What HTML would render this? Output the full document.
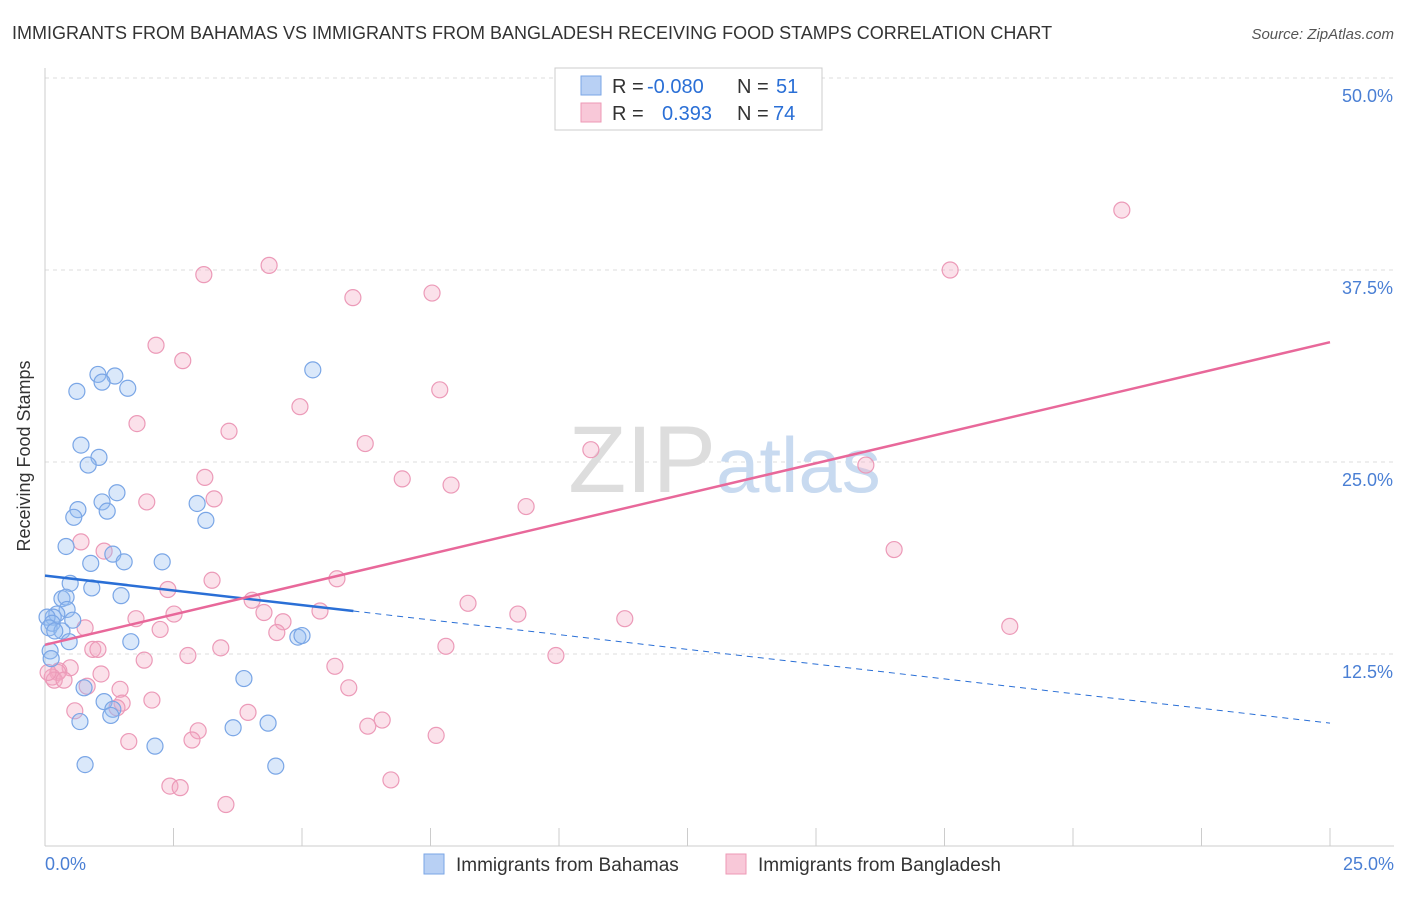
<!DOCTYPE html>
<html><head><meta charset="utf-8"><style>
body{margin:0;background:#fff;font-family:"Liberation Sans",sans-serif;}
svg text{font-family:"Liberation Sans",sans-serif;}
</style></head><body>
<svg width="1406" height="892">
<text x="12" y="39" font-size="18" fill="#333">IMMIGRANTS FROM BAHAMAS VS IMMIGRANTS FROM BANGLADESH RECEIVING FOOD STAMPS CORRELATION CHART</text>
<text x="1394" y="39" font-size="15" fill="#555" font-style="italic" text-anchor="end">Source: ZipAtlas.com</text>
<text x="30" y="456" font-size="18" fill="#333" transform="rotate(-90 30 456)" text-anchor="middle">Receiving Food Stamps</text>
<g id="grid"></g>
<line x1="45" y1="68" x2="45" y2="846" stroke="#ccc"/>
<line x1="45" y1="846" x2="1394" y2="846" stroke="#ccc"/>
<g id="xticks"></g>
<text x="716" y="492" font-size="95" fill="#ddd" text-anchor="end" font-family="Liberation Serif">ZIP</text>
<text x="716" y="492" font-size="78" fill="#c8daf0">atlas</text>
<g id="points"></g>
<g id="lines"></g>
<text x="45" y="870" font-size="18" fill="#4a7fd4">0.0%</text>
<text x="1394" y="870" font-size="18" fill="#4a7fd4" text-anchor="end">25.0%</text>
<rect x="555" y="68" width="267" height="62" fill="#fff" stroke="#ccc"/>
<rect x="581" y="76" width="20" height="19" fill="#b8d0f4" stroke="#7aa6e6"/>
<rect x="581" y="103" width="20" height="19" fill="#f8c8d8" stroke="#ee99b6"/>
<text font-size="20" fill="#333"><tspan x="612" y="93">R = </tspan><tspan x="647" fill="#2a6fd6">-0.080</tspan><tspan x="737">N = </tspan><tspan x="776" fill="#2a6fd6">51</tspan></text>
<text font-size="20" fill="#333"><tspan x="612" y="120">R = </tspan><tspan x="662" fill="#2a6fd6">0.393</tspan><tspan x="737">N = </tspan><tspan x="773" fill="#2a6fd6">74</tspan></text>
<rect x="424" y="854" width="20" height="20" fill="#b8d0f4" stroke="#7aa6e6"/>
<text x="456" y="871" font-size="19" fill="#333">Immigrants from Bahamas</text>
<rect x="726" y="854" width="20" height="20" fill="#f8c8d8" stroke="#ee99b6"/>
<text x="758" y="871" font-size="19" fill="#333">Immigrants from Bangladesh</text>
</svg>
<script>
const yTicks=[12.5,25,37.5,50];
const yTickLabels=["12.5%","25.0%","37.5%","50.0%"];
const xTickVals=[0,2.5,5,7.5,10,12.5,15,17.5,20,22.5,25];
const bahamasX=[1.03,1.36,1.61,1.11,0.62,5.21,0.70,1.05,0.84,1.40,1.11,0.64,0.56,1.21,2.96,3.13,0.41,1.32,1.54,2.28,0.89,0.49,0.91,1.48,0.33,0.41,0.43,0.23,0.16,0.04,0.54,0.14,0.08,0.33,0.19,0.47,1.67,4.92,5.00,0.10,0.12,0.76,3.87,1.15,1.32,1.28,0.68,3.66,4.34,2.14,0.78,4.49];
const bahamasY=[30.7,30.6,29.8,30.2,29.6,31.0,26.1,25.3,24.8,23.0,22.4,21.9,21.4,21.8,22.3,21.2,19.5,19.0,18.5,18.5,18.4,17.1,16.8,16.3,16.1,16.2,15.4,15.1,14.9,14.9,14.7,14.5,14.2,14.0,14.0,13.3,13.3,13.6,13.7,12.7,12.2,10.3,10.9,9.4,8.9,8.5,8.1,7.7,8.0,6.5,5.3,5.2];
const bangladeshX=[20.95,17.61,4.36,3.09,5.99,7.53,2.16,2.68,7.68,4.96,1.79,3.58,6.23,10.62,15.97,3.11,6.95,7.90,1.98,3.29,9.36,0.70,1.15,16.52,5.68,3.25,2.39,4.03,8.23,4.26,9.20,5.35,2.51,11.28,1.77,4.63,18.77,2.24,0.78,4.51,0.93,3.42,1.03,7.80,9.94,2.78,1.93,5.64,0.49,0.27,0.25,0.14,0.18,0.37,1.09,0.06,1.46,5.91,0.82,2.08,1.50,1.40,0.58,3.95,6.56,2.98,6.28,1.63,2.86,7.61,2.43,2.63,6.73,3.52];
const bangladeshY=[41.4,37.5,37.8,37.2,35.7,36.0,32.6,31.6,29.7,28.6,27.5,27.0,26.2,25.8,24.8,24.0,23.9,23.5,22.4,22.6,22.1,19.8,19.2,19.3,17.4,17.3,16.7,16.0,15.8,15.2,15.1,15.3,15.1,14.8,14.8,14.6,14.3,14.1,14.2,13.9,12.8,12.9,12.8,13.0,12.4,12.4,12.1,11.7,11.6,11.4,11.3,11.0,10.8,10.8,11.2,11.3,10.2,10.3,10.4,9.5,9.3,9.0,8.8,8.7,8.2,7.5,7.8,6.8,6.9,7.2,3.9,3.8,4.3,2.7];
const bahamasTrend=[17.6,8.0];
const bangladeshTrend=[13.1,32.8];
const NS="http://www.w3.org/2000/svg";
const X=v=>45+v/25*1285, Y=v=>846-v/12.5*192;
function mk(t,a,p){const e=document.createElementNS(NS,t);for(const k in a)e.setAttribute(k,a[k]);p.appendChild(e);return e;}
const grid=document.getElementById('grid');
yTicks.forEach((t,i)=>{
 const l=mk('line',{x1:45,x2:1394,y1:Y(t),y2:Y(t),stroke:'#ddd','stroke-dasharray':'4,4'},grid);
 
 
 const tx=mk('text',{x:1393,y:Y(t)+24,'font-size':18,fill:'#4a7fd4','text-anchor':'end'},grid);
 tx.textContent=yTickLabels[i];
 
 
});
const xt=document.getElementById('xticks');
xTickVals.forEach(v=>{
 const l=mk('line',{x1:X(v),x2:X(v),y1:828,y2:846,stroke:'#ccc'},xt);
 
 
});
const pts=document.getElementById('points');
bangladeshX.forEach((x,i)=>{
 const c=mk('circle',{cx:X(x),cy:Y(bangladeshY[i]),r:8,fill:'rgba(244,170,196,0.35)',stroke:'#ec9ab8','stroke-width':1.2},pts);
 
 
});
bahamasX.forEach((x,i)=>{
 const c=mk('circle',{cx:X(x),cy:Y(bahamasY[i]),r:8,fill:'rgba(150,190,240,0.35)',stroke:'#7aa6e6','stroke-width':1.2},pts);
 
 
});
const ln=document.getElementById('lines');
const bY=x=>bahamasTrend[0]+(bahamasTrend[1]-bahamasTrend[0])*x/25;
let l1=mk('line',{x1:X(0),y1:Y(bY(0)),x2:X(6),y2:Y(bY(6)),stroke:'#2a6fd6','stroke-width':2.5},ln);


let l2=mk('line',{x1:X(6),y1:Y(bY(6)),x2:X(25),y2:Y(bY(25)),stroke:'#2a6fd6','stroke-width':1,'stroke-dasharray':'6,5'},ln);


let l3=mk('line',{x1:X(0),y1:Y(bangladeshTrend[0]),x2:X(25),y2:Y(bangladeshTrend[1]),stroke:'#e8689a','stroke-width':2.5},ln);


</script>
</body></html>
